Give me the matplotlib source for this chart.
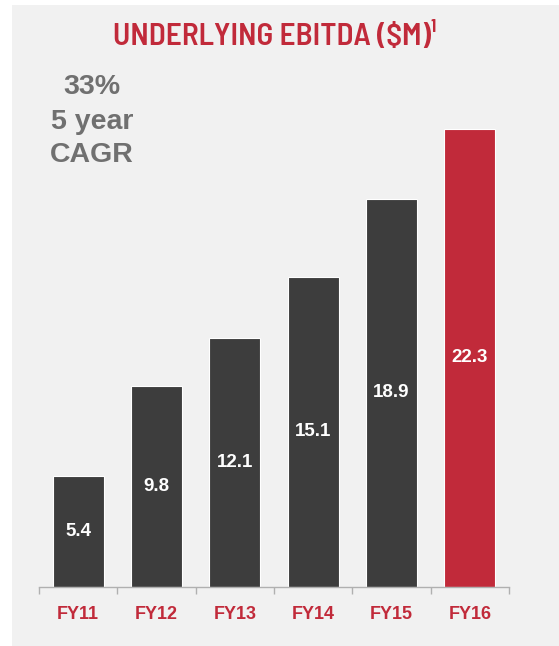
import matplotlib
matplotlib.use("Agg")
import matplotlib.pyplot as plt
from matplotlib.patches import Rectangle

years = ["FY11", "FY12", "FY13", "FY14", "FY15", "FY16"]
ebitda = [5.4, 9.8, 12.1, 15.1, 18.9, 22.3]
bar_colors = ["#3d3d3d"] * 5 + ["#c12a3a"]

RED = "#c12a3a"
GREY_TEXT = "#707070"
PANEL = "#f1f1f1"

W, H = 559, 646
fig = plt.figure(figsize=(W / 100, H / 100), dpi=100)
fig.patch.set_facecolor("white")
fig.patches.append(Rectangle((12 / W, 0), 1 - 12 / W, 1 - 5 / H, transform=fig.transFigure,
                             facecolor=PANEL, edgecolor="none", zorder=-10))

# axes spans x 39..509 px, baseline at y=587 px
ax = fig.add_axes([39 / W, (H - 587) / H, 470 / W, 493 / H])
ax.set_facecolor("none")
x = range(len(years))
ax.bar(x, ebitda, width=0.65, color=bar_colors, edgecolor="white", linewidth=0.8)
for i, v in enumerate(ebitda):
    ax.text(i, v / 2, f"{v}", ha="center", va="center", color="white",
            fontsize=13.5, fontweight="bold", family="Liberation Sans")

ax.set_xlim(-0.5, len(years) - 0.5)
ax.set_ylim(0, 24)
ax.set_yticks([])
for side in ("top", "right", "left"):
    ax.spines[side].set_visible(False)
ax.spines["bottom"].set_color("#b0b0b0")
ax.spines["bottom"].set_linewidth(1)
ax.set_xticks(list(x))
ax.set_xticklabels(years, color=RED, fontsize=13, fontweight="bold", family="Liberation Sans")
ax.tick_params(axis="x", which="major", length=0, pad=14)
ax.set_xticks([i - 0.5 for i in range(len(years) + 1)], minor=True)
ax.tick_params(axis="x", which="minor", length=5, color="#b0b0b0", width=1)

fig.text(275 / W, 1 - 36 / H, "UNDERLYING EBITDA (\\$M)\u00b9", ha="center", va="center",
         color=RED, fontsize=22.5, fontweight=600, family=["Barlow Semi Condensed", "DejaVu Sans"])

for label, y in (("33%", 87), ("5 year", 122), ("CAGR", 155)):
    fig.text(92 / W, 1 - y / H, label, ha="center", va="center", color=GREY_TEXT,
             fontsize=20.5, fontweight="bold", family="Liberation Sans")

fig.savefig("out.png", dpi=100)
